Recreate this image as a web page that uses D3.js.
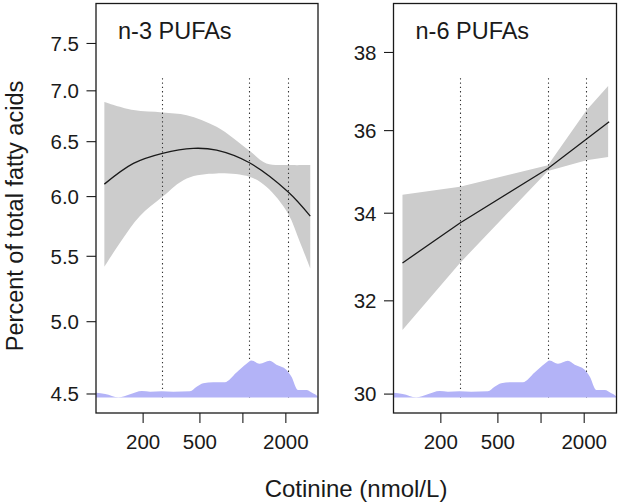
<!DOCTYPE html>
<html><head><meta charset="utf-8">
<script src="https://cdn.jsdelivr.net/npm/d3@7"></script>
<style>
body{margin:0;background:#fff}
svg{display:block}
text{font-family:"Liberation Sans",Arial,Helvetica,sans-serif;fill:#1a1a1a}
</style>
</head><body>
<svg id="c" width="620" height="502"></svg>
<script>
// ---------- data ----------
const panelTitles = ["n-3 PUFAs", "n-6 PUFAs"];
const xTicks = [200, 500, 1000, 2000];
const xTickLabels = ["200", "500", "", "2000"];
const quartiles = [273, 1112, 2075];

const n3Ticks = [4.5, 5.0, 5.5, 6.0, 6.5, 7.0, 7.5];
const n3TickLabels = ["4.5", "5.0", "5.5", "6.0", "6.5", "7.0", "7.5"];
const n6Ticks = [30, 32, 34, 36, 38];
const n6TickLabels = ["30", "32", "34", "36", "38"];

const n3X = [107, 171, 273, 449, 654, 1112, 2069, 2966];
const n3Fit = [6.11, 6.297, 6.39, 6.437, 6.42, 6.303, 6.043, 5.832];
const n3UpperX = [107, 171, 273, 404, 654, 1112, 1461, 2069, 2966];
const n3Upper = [6.888, 6.806, 6.783, 6.756, 6.642, 6.414, 6.297, 6.282, 6.282];
const n3LowerX = [107, 142, 190, 273, 404, 654, 1112, 1461, 2069, 2500, 2966];
const n3Lower = [5.417, 5.632, 5.832, 5.998, 6.161, 6.206, 6.175, 6.086, 5.855, 5.62, 5.404];
const n3DotTop = 7.13;

const n6X = [108, 272, 1117, 2986];
const n6Fit = [32.85, 33.77, 35.07, 36.22];
const n6BandX = [108, 272, 1117, 2075, 2938];
const n6Upper = [34.44, 34.63, 35.15, 36.51, 37.13];
const n6Lower = [31.36, 32.85, 35.01, 35.27, 35.35];
const n6DotTop = 37.33;

// cotinine distribution (relative density)
const densX = [93.5, 108.5, 134.5, 162, 196, 224, 270, 325.5, 426, 474, 527.5, 619, 747.5, 902, 1060, 1148, 1312, 1541, 1717, 2016, 2185, 2430, 2781, 3093, 3319, 3360];
const densY = [0.13, 0.095, 0.005, 0.087, 0.177, 0.158, 0.168, 0.158, 0.168, 0.293, 0.386, 0.413, 0.413, 0.674, 0.91, 1.0, 0.91, 0.992, 0.883, 0.747, 0.565, 0.204, 0.204, 0.114, 0.04, 0.0];

const xDomain = [93.5, 3360];
const n3Domain = [4.377, 7.95];
const n6Domain = [29.61, 39.31];

// ---------- drawing ----------
const svg = d3.select("#c");
const plotTop = 3.5, plotBottom = 413;
const panels = [
  {x0: 96, x1: 318, title: panelTitles[0], dom: n3Domain, ticks: n3Ticks, labels: n3TickLabels,
   fitX: n3X, fit: n3Fit, upX: n3UpperX, up: n3Upper, loX: n3LowerX, lo: n3Lower, dotTop: n3DotTop, curve: d3.curveCatmullRom},
  {x0: 393.5, x1: 616.5, title: panelTitles[1], dom: n6Domain, ticks: n6Ticks, labels: n6TickLabels,
   fitX: n6X, fit: n6Fit, upX: n6BandX, up: n6Upper, loX: n6BandX, lo: n6Lower, dotTop: n6DotTop, curve: d3.curveLinear}
];

panels.forEach((p, i) => {
  const x = d3.scaleLog().domain(xDomain).range([p.x0, p.x1]);
  const y = d3.scaleLog().domain(p.dom).range([plotBottom, plotTop]);
  const dBase = plotBottom - 15.5;
  const yd = d3.scaleLinear().domain([0, 1]).range([dBase, dBase - 37]);

  const clipId = "clip" + i;
  svg.append("clipPath").attr("id", clipId).append("rect")
    .attr("x", p.x0).attr("y", plotTop).attr("width", p.x1 - p.x0).attr("height", plotBottom - plotTop);
  const g = svg.append("g").attr("clip-path", `url(#${clipId})`);

  // band
  const upLine = d3.line().x(d => x(d[0])).y(d => y(d[1])).curve(p.curve);
  const upPts = p.upX.map((v, k) => [v, p.up[k]]);
  const loPts = p.loX.map((v, k) => [v, p.lo[k]]).reverse();
  const pathD = upLine(upPts) + "L" + upLine(loPts).slice(1) + "Z";
  g.append("path").attr("d", pathD).attr("fill", "#cccccc").attr("stroke", "none");

  // dotted quartile lines
  g.selectAll(".q").data(quartiles).enter().append("line")
    .attr("x1", d => Math.round(x(d)) + 0.5).attr("x2", d => Math.round(x(d)) + 0.5)
    .attr("y1", y(p.dotTop)).attr("y2", dBase)
    .attr("stroke", "#333").attr("stroke-width", 1.1).attr("stroke-dasharray", "1.3,3");

  // fit line
  const fl = d3.line().x(d => x(d[0])).y(d => y(d[1])).curve(i === 0 ? d3.curveCatmullRom : d3.curveLinear);
  g.append("path").attr("d", fl(p.fitX.map((v, k) => [v, p.fit[k]])))
    .attr("fill", "none").attr("stroke", "#1a1a1a").attr("stroke-width", 1.3);

  // density
  const area = d3.area().x(d => x(d[0])).y0(dBase).y1(d => yd(d[1])).curve(d3.curveMonotoneX);
  g.append("path").attr("d", area(densX.map((v, k) => [v, densY[k]])))
    .attr("fill", "#b3b3f7").attr("stroke", "none");

  // box
  svg.append("rect").attr("x", p.x0).attr("y", plotTop).attr("width", p.x1 - p.x0).attr("height", plotBottom - plotTop)
    .attr("fill", "none").attr("stroke", "#1a1a1a").attr("stroke-width", 1.3);

  // y axis
  const ya = svg.append("g");
  p.ticks.forEach((t, k) => {
    const yy = y(t);
    ya.append("line").attr("x1", p.x0 - 9.5).attr("x2", p.x0).attr("y1", yy).attr("y2", yy)
      .attr("stroke", "#1a1a1a").attr("stroke-width", 1.1);
    ya.append("text").attr("x", p.x0 - 17).attr("y", yy).attr("dy", "0.36em")
      .attr("text-anchor", "end").attr("font-size", 20.5).text(p.labels[k]);
  });

  // x axis
  const xa = svg.append("g");
  xTicks.forEach((t, k) => {
    const xx = x(t);
    xa.append("line").attr("x1", xx).attr("x2", xx).attr("y1", plotBottom).attr("y2", plotBottom + 10)
      .attr("stroke", "#1a1a1a").attr("stroke-width", 1.1);
    if (xTickLabels[k]) xa.append("text").attr("x", xx).attr("y", 448.5)
      .attr("text-anchor", "middle").attr("font-size", 20.5).text(xTickLabels[k]);
  });

  // title
  svg.append("text").attr("x", p.x0 + 22).attr("y", 38.5).attr("font-size", 23.5).text(p.title);
});

svg.append("text").attr("transform", "translate(23,216) rotate(-90)")
  .attr("text-anchor", "middle").attr("font-size", 23.5).text("Percent of total fatty acids");
svg.append("text").attr("x", 356).attr("y", 496.5)
  .attr("text-anchor", "middle").attr("font-size", 24).text("Cotinine (nmol/L)");
</script>
</body></html>
